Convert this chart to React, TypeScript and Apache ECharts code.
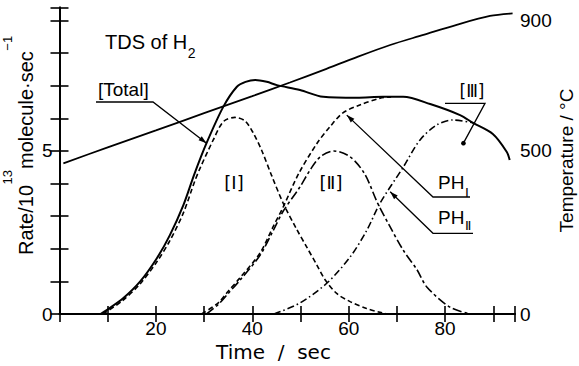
import React, { useEffect, useRef } from "react";
import * as echarts from "echarts";

// ---- axis ranges and labelled ticks ----
const TIME_MAX = 94.5;
const RATE_MAX = 9.4;
const TEMP_MAX = 940;
const timeLabels = [20, 40, 60, 80];
const rateLabels = [0, 5];
const tempLabels = [0, 500, 900];

// ---- heating ramp: temperature (°C) against time (s) ----
const tempTime = [0.8, 10, 20, 30, 40, 47.8, 54.7, 61.7, 68.6, 75.5, 82.4, 89.3, 94];
const tempValue = [462, 511, 563, 616, 668, 710, 748, 788, 825, 856, 887, 914, 922];

// ---- measured total H2 desorption rate (10^13 molecule/s) ----
const totalTime = [8.5, 9.8, 13.2, 16.7, 20.2, 22.9, 25.7, 28, 30.5, 34, 36.8, 38.6, 40.6, 43, 45.1, 49.9, 54.7, 61.7, 67.1, 71.3, 76.9, 83.1, 85.8, 89.9, 92.8, 93.4];
const totalRate = [0, 0.12, 0.48, 0.99, 1.71, 2.42, 3.34, 4.3, 5.24, 6.36, 6.97, 7.12, 7.18, 7.12, 7.02, 6.87, 6.66, 6.63, 6.66, 6.66, 6.44, 6.1, 5.86, 5.52, 4.97, 4.72];

// ---- component [I] ----
const peak1Time = [9, 13, 16.7, 20.2, 22.9, 25.7, 28, 29.1, 31.9, 34, 36.4, 38.5, 40.2, 42, 44, 46.4, 49.2, 51.3, 53.4, 55.1, 57.5, 60.3, 63.7, 66.5, 68];
const peak1Rate = [0, 0.4, 0.92, 1.6, 2.25, 3.1, 4.05, 4.45, 5.34, 5.9, 6.03, 5.92, 5.55, 5.0, 4.25, 3.4, 2.6, 2.05, 1.5, 1.05, 0.63, 0.38, 0.17, 0.05, 0];

// ---- PH_I : sum of [II] and [III] ----
const phITime = [29.5, 33, 35, 37.4, 41.6, 44.3, 46.4, 49.6, 53.5, 56.1, 58.8, 62.3, 66.5, 68.8];
const phIRate = [0, 0.35, 0.7, 1.1, 1.87, 2.67, 3.28, 4.3, 5.25, 5.74, 6.17, 6.41, 6.62, 6.66];

// ---- component [II] ----
const peak2Time = [30.5, 33, 35, 37.4, 41.6, 44.3, 46.4, 49.9, 52, 54.1, 56.9, 60.3, 63.3, 66, 68.6, 71.3, 74.2, 76.2, 81, 85.2];
const peak2Rate = [0, 0.3, 0.63, 1.03, 1.8, 2.55, 3.15, 3.9, 4.42, 4.82, 5.0, 4.82, 4.3, 3.4, 2.67, 1.96, 1.35, 0.83, 0.21, 0];

// ---- component [III] ----
const peak3Time = [44.5, 49.9, 55.5, 60.3, 63.8, 66.5, 71.3, 74.8, 78.3, 81.6, 85.8];
const peak3Rate = [0, 0.34, 0.95, 1.75, 2.58, 3.4, 4.5, 5.34, 5.8, 5.95, 5.86];

const W = 579;
const H = 366;
const GRID = { left: 59.5, right: 64, top: 7.5, bottom: 52 };

const SANS = '"Liberation Sans", Arial, sans-serif';
const DEJAVU = '"DejaVu Sans", sans-serif';
const INK = "#000";

const pairs = (xs: number[], ys: number[]) => xs.map((x, i) => [x, ys[i]]);

function textWidth(text: string, font: string): number {
  const ctx = document.createElement("canvas").getContext("2d");
  if (!ctx) return text.length * 10;
  ctx.font = font;
  return ctx.measureText(text).width;
}

const axisLineStyle = { color: INK, width: 1.8 };
const tickStyle = { color: INK, width: 1.6 };
const labelStyle = { color: INK, fontSize: 19, fontFamily: SANS };

function curve(name: string, xs: number[], ys: number[], type: any, width: number, z: number, yAxisIndex = 0) {
  return {
    name,
    type: "line",
    xAxisIndex: 0,
    yAxisIndex,
    data: pairs(xs, ys),
    smooth: 0.3,
    symbol: "none",
    silent: true,
    z,
    lineStyle: { color: INK, width, type, cap: "butt" },
  };
}

function buildOption() {
  return {
    animation: false,
    backgroundColor: "#fff",
    grid: { ...GRID, containLabel: false },
    xAxis: [
      {
        type: "value",
        position: "bottom",
        min: 0,
        max: TIME_MAX,
        interval: 10,
        axisLine: { show: true, lineStyle: axisLineStyle },
        axisTick: { show: true, inside: true, length: 8, lineStyle: tickStyle },
        axisLabel: {
          ...labelStyle,
          margin: 5,
          formatter: (v: number) => (timeLabels.includes(v) ? String(v) : ""),
        },
        splitLine: { show: false },
      },
      {
        type: "value",
        position: "top",
        min: 0,
        max: TIME_MAX,
        interval: 10,
        axisLine: { show: true, lineStyle: axisLineStyle },
        axisTick: { show: true, inside: true, length: 8, lineStyle: tickStyle },
        axisLabel: { show: false },
        splitLine: { show: false },
      },
    ],
    yAxis: [
      {
        type: "value",
        position: "left",
        min: 0,
        max: RATE_MAX,
        interval: 1,
        axisLine: { show: true, lineStyle: axisLineStyle },
        axisTick: { show: true, inside: true, length: 9, lineStyle: tickStyle },
        axisLabel: {
          ...labelStyle,
          margin: 7,
          formatter: (v: number) => (rateLabels.includes(v) ? String(v) : ""),
        },
        splitLine: { show: false },
      },
      {
        type: "value",
        position: "right",
        min: 0,
        max: TEMP_MAX,
        interval: 100,
        axisLine: { show: true, lineStyle: axisLineStyle },
        axisTick: { show: true, inside: true, length: 9, lineStyle: tickStyle },
        axisLabel: {
          ...labelStyle,
          margin: 5,
          formatter: (v: number) => (tempLabels.includes(v) ? String(v) : ""),
        },
        splitLine: { show: false },
      },
    ],
    series: [
      curve("Temperature", tempTime, tempValue, "solid", 1.8, 5, 1),
      curve("[I]", peak1Time, peak1Rate, [5, 3], 1.6, 3),
      curve("PH_I", phITime, phIRate, [5, 3], 1.6, 3),
      curve("[II]", peak2Time, peak2Rate, [9, 3, 3, 3], 1.6, 3),
      curve("[III]", peak3Time, peak3Rate, [7, 3, 1.5, 3], 1.6, 3),
      curve("Total", totalTime, totalRate, "solid", 2, 6),
    ],
  };
}

function buildGraphic(chart: any) {
  const px = (t: number, r: number) =>
    chart.convertToPixel({ xAxisIndex: 0, yAxisIndex: 0 }, [t, r]) as number[];
  const els: any[] = [];

  const poly = (pts: number[][], w = 1.3) =>
    els.push({ type: "polyline", shape: { points: pts }, style: { stroke: INK, lineWidth: w, fill: null }, z: 20 });

  const head = (tip: number[], from: number[], len = 8, half = 2.6) => {
    const dx = tip[0] - from[0];
    const dy = tip[1] - from[1];
    const d = Math.hypot(dx, dy) || 1;
    const ux = dx / d;
    const uy = dy / d;
    const bx = tip[0] - ux * len;
    const by = tip[1] - uy * len;
    els.push({
      type: "polygon",
      shape: { points: [tip, [bx - uy * half, by + ux * half], [bx + uy * half, by - ux * half]] },
      style: { fill: INK },
      z: 21,
    });
  };

  const text = (x: number, y: number, str: string, size: number, family: string, align = "left") =>
    els.push({
      type: "text",
      x,
      y,
      style: { text: str, font: `${size}px ${family}`, fill: INK, align, verticalAlign: "middle" },
      z: 22,
    });

  // title
  const titleFont = `20px ${SANS}`;
  text(105, 41.7, "TDS of H", 20, SANS);
  text(105 + textWidth("TDS of H", titleFont) + 0.5, 52.5, "2", 14, SANS);

  // axis names
  text(273.5, 352, "Time  /  sec", 20, DEJAVU, "center");

  els.push({
    type: "text",
    x: 566.8,
    y: 160.5,
    rotation: Math.PI / 2,
    style: { text: "Temperature / °C", font: `19px ${SANS}`, fill: INK, align: "center", verticalAlign: "middle" },
    z: 22,
  });

  const leftPieces = [
    { s: "Rate/10", sup: false },
    { s: "13", sup: true },
    { s: "molecule·sec", sup: false },
    { s: "−1", sup: true },
  ];
  let run = 0;
  const leftChildren = leftPieces.map((p) => {
    const size = p.sup ? 13 : 20;
    const font = `${size}px ${SANS}`;
    const el = {
      type: "text",
      x: run,
      y: p.sup ? -18.5 : 0,
      style: { text: p.s, font, fill: INK, align: "left", verticalAlign: "middle" },
    };
    run += textWidth(p.s, font) + (p.sup ? 1 : 0.5);
    return el;
  });
  els.push({ type: "group", x: 25.8, y: 255, rotation: Math.PI / 2, children: leftChildren, z: 22 });

  // component labels
  text(234, 182, "[Ⅰ]", 18, DEJAVU, "center");
  text(331, 182.5, "[Ⅱ]", 18, DEJAVU, "center");
  text(472, 91, "[Ⅲ]", 17, DEJAVU, "center");

  // [Total] with leader
  text(98, 89.7, "[Total]", 19, SANS);
  const totalTip = px(30.5, 5.24);
  poly([[96, 102], [153, 102], totalTip]);
  head(totalTip, [153, 102]);

  // [III] leader ending in a dot
  const dot = px(83.8, 5.24);
  poly([[445, 103.3], [485, 103.3], dot]);
  els.push({ type: "circle", shape: { cx: dot[0], cy: dot[1], r: 2.3 }, style: { fill: INK }, z: 21 });

  // PH_I
  text(438, 182.5, "PH", 19, SANS);
  text(438 + textWidth("PH", `19px ${SANS}`) + 0.5, 192, "Ⅰ", 13, DEJAVU);
  const ph1Tip = px(59.6, 6.1);
  poly([[470, 197], [433, 197], ph1Tip]);
  head(ph1Tip, [433, 197]);

  // PH_II
  text(438, 217.5, "PH", 19, SANS);
  text(438 + textWidth("PH", `19px ${SANS}`) + 0.5, 225.5, "Ⅱ", 13, DEJAVU);
  const ph2Tip = px(68.6, 3.75);
  poly([[473, 233.3], [433, 233.3], ph2Tip]);
  head(ph2Tip, [433, 233.3]);

  return els;
}

export default function App() {
  const ref = useRef<HTMLDivElement>(null);

  useEffect(() => {
    const el = ref.current;
    if (!el) return;
    const chart = echarts.init(el, undefined, { renderer: "svg" });
    chart.setOption(buildOption());
    chart.setOption({ graphic: { elements: buildGraphic(chart) } });
    return () => chart.dispose();
  }, []);

  return (
    <div
      ref={ref}
      style={{ position: "fixed", left: 0, top: 0, width: W, height: H, background: "#fff" }}
    />
  );
}
